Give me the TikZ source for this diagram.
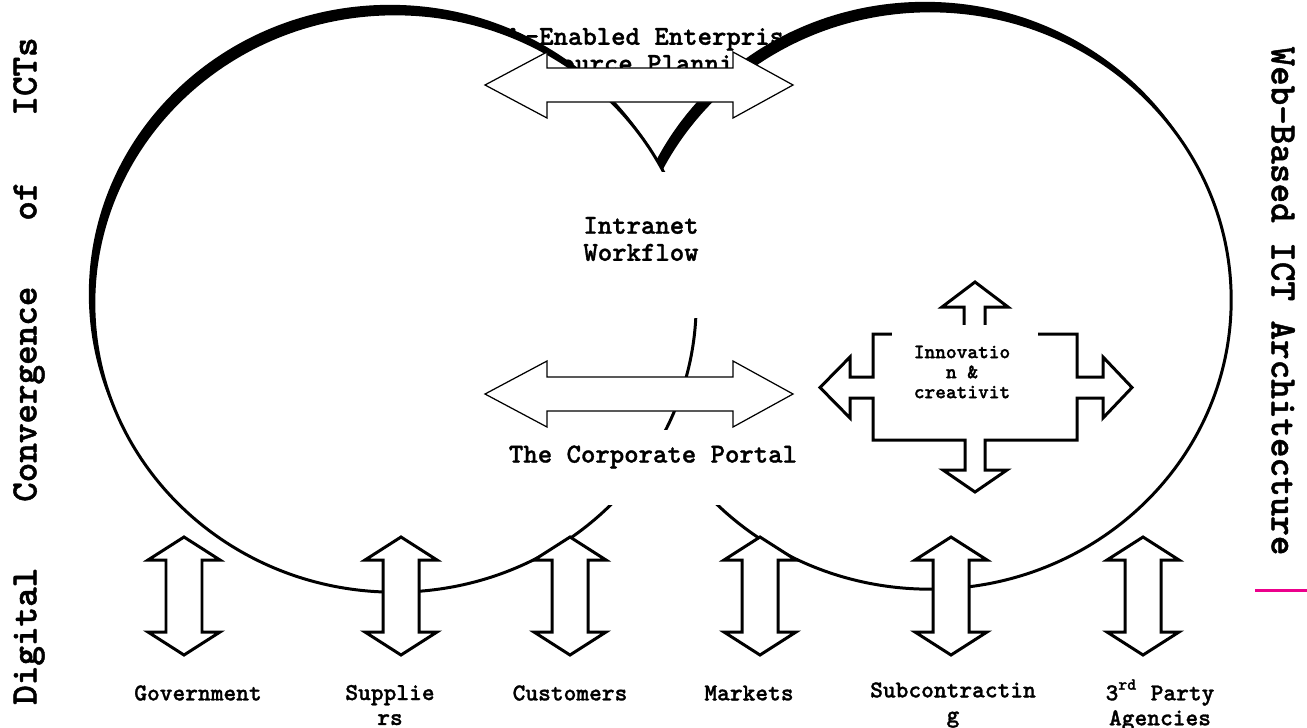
\documentclass[tikz,border=0pt]{standalone}
\usepackage{fontspec}
\usepackage{tikz}
\usetikzlibrary{shapes.geometric, shadows}
\newfontfamily\courbold{lmmonolt10-bold.otf}[FakeBold=1.2]
\definecolor{magline}{RGB}{236,0,140}

\begin{document}
\begin{tikzpicture}[x=0.01cm, y=-0.01cm,
    ring/.style={ellipse, draw, line width=0.85pt, fill=white, inner sep=0pt,
                 minimum width=6.02cm, minimum height=5.78cm,
                 drop shadow={shadow xshift=-0.05cm, shadow yshift=0.09cm,
                              fill=black, opacity=1}},
    lbl/.style={font=\courbold\fontsize{7.8}{7.7}\selectfont,
                align=center, inner sep=0pt},
    botlbl/.style={font=\courbold\fontsize{6.9}{7.1}\selectfont,
                   align=center, inner sep=0pt},
    innolbl/.style={font=\courbold\fontsize{5.8}{5.7}\selectfont,
                    align=center, inner sep=0pt},
    sidelbl/.style={font=\courbold\fontsize{10.6}{12}\selectfont,
                    inner sep=0pt},
    flatarr/.style={draw, fill=white, line width=0.35pt},
    blockarr/.style={draw, fill=white, line width=0.85pt}
]
\useasboundingbox (0,0) rectangle (1307,727);

% text under the two rings
\node[lbl] (erp) at (640,53) {Web-Enabled Enterprise\\Resource Planning};

\node[ring] (rightc) at (930,300) {};
\node[ring] (leftc)  at (395,303) {};

% white text boxes
\fill[white] (585,172) rectangle (720,318);
\node[lbl] (intra) at (641,239) {Intranet\\Workflow};
\fill[white] (505,430) rectangle (800,505);
\node[lbl] (portal) at (653,457) {The Corporate Portal};

% horizontal double arrows
\foreach \y in {85,394}
  \draw[flatarr] (485,\y) -- (547,{\y-33}) -- (547,{\y-17}) -- (733,{\y-17})
    -- (733,{\y-33}) -- (793,\y) -- (733,{\y+33}) -- (733,{\y+17})
    -- (547,{\y+17}) -- (547,{\y+33}) -- cycle;

% quad arrow
\draw[blockarr] (975,282) -- (1008,307) -- (985,307) -- (985,334) -- (1077,334)
  -- (1077,377) -- (1103,377) -- (1103,357) -- (1132,387.5) -- (1103,418)
  -- (1103,398) -- (1077,398) -- (1077,440) -- (985,440) -- (985,470)
  -- (1007,470) -- (975,492) -- (943,470) -- (965,470) -- (965,440)
  -- (873,440) -- (873,398) -- (850,398) -- (850,418) -- (820,387.5)
  -- (850,357) -- (850,377) -- (873,377) -- (873,334) -- (964,334)
  -- (964,307) -- (942,307) -- cycle;
\fill[white] (892,325) rectangle (1038,420);
\node[innolbl] (inno) at (962,372) {Innovatio\\n \&\\creativit};

% vertical double arrows
\foreach \x in {184,401,570,760,951,1143}
  \draw[blockarr] (\x,537) -- ({\x+36},560) -- ({\x+18},560) -- ({\x+18},632)
    -- ({\x+36},632) -- (\x,655) -- ({\x-36},632) -- ({\x-18},632)
    -- ({\x-18},560) -- ({\x-36},560) -- cycle;

\node[botlbl] (gov) at (198,693)  {Government};
\node[botlbl] (sup) at (390,705)  {Supplie\\rs};
\node[botlbl] (cus) at (570,693)  {Customers};
\node[botlbl] (mkt) at (749,693)  {Markets};
\node[botlbl] (sub) at (953,705)  {Subcontractin\\g};
\node[botlbl] (thp) at (1160,705) {3\textsuperscript{rd} Party\\Agencies};

% side titles
\node[sidelbl, rotate=90] (dig) at (29,371)
  {\makebox[6.67cm][s]{Digital Convergence of ICTs}};
\node[sidelbl, rotate=-90] (web) at (1283,301) {Web-Based ICT Architecture};

\coordinate (mA) at (1255,590);
\coordinate (mB) at (1307,590);
\draw[magline, line width=0.85pt] (mA) -- (mB);
\end{tikzpicture}
\end{document}
